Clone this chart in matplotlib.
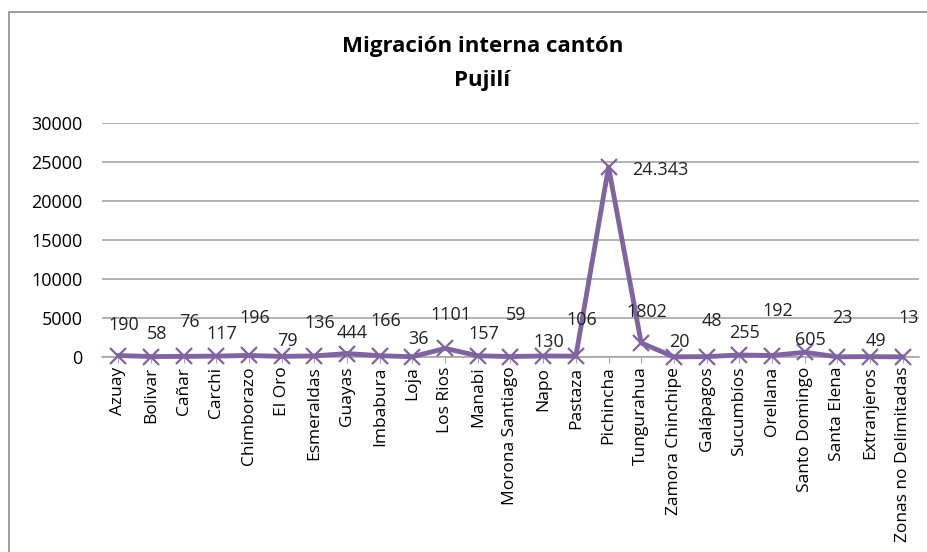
import matplotlib.pyplot as plt
from matplotlib.patches import Rectangle

# data
provincias = ["Azuay", "Bolivar", "Cañar", "Carchi", "Chimborazo", "El Oro", "Esmeraldas",
              "Guayas", "Imbabura", "Loja", "Los Rios", "Manabi", "Morona Santiago", "Napo",
              "Pastaza", "Pichincha", "Tungurahua", "Zamora Chinchipe", "Galápagos", "Sucumbíos",
              "Orellana", "Santo Domingo", "Santa Elena", "Extranjeros", "Zonas no Delimitadas"]
migrantes = [190, 58, 76, 117, 196, 79, 136, 444, 166, 36, 1101, 157, 59, 130, 106,
             24343, 1802, 20, 48, 255, 192, 605, 23, 49, 13]
etiquetas = ["190", "58", "76", "117", "196", "79", "136", "444", "166", "36", "1101", "157",
             "59", "130", "106", "24.343", "1802", "20", "48", "255", "192", "605", "23", "49", "13"]
y_ticks = [0, 5000, 10000, 15000, 20000, 25000, 30000]

# label offsets in points (dy), as Excel placed them
label_dy = [22, 16, 25, 16, 27, 11, 24, 15, 25, 13, 24, 16, 30, 10, 26,
            0, 22, 11, 26, 16, 32, 9, 28, 11, 28]

FONT = ["Open Sans", "DejaVu Sans"]
PURPLE = "#8064A2"
GRID = "#a6a6a6"

fig = plt.figure(figsize=(9.28, 5.52), dpi=100)
fig.patches.append(Rectangle((9 / 928, -0.1), 1.2, (552 - 12) / 552 + 0.1,
                             transform=fig.transFigure, fill=False,
                             edgecolor="#8c8c8c", linewidth=1.2))

ax = fig.add_axes([102 / 928, (552 - 357) / 552, (919 - 102) / 928, (357 - 123) / 552])
x = list(range(len(provincias)))
ax.plot(x, migrantes, color=PURPLE, linewidth=3.5, marker="x", markersize=11,
        markeredgewidth=1.6, zorder=3, clip_on=False)

for i, (v, t) in enumerate(zip(migrantes, etiquetas)):
    if i == 15:
        ax.annotate(t, (i, v), xytext=(17, -2), textcoords="offset points",
                    ha="left", va="center", fontsize=13, family=FONT, color="#222222")
    else:
        ax.annotate(t, (i, v), xytext=(4, label_dy[i]), textcoords="offset points",
                    ha="center", va="center", fontsize=13, family=FONT, color="#222222")

ax.set_xlim(-0.5, len(provincias) - 0.5)
ax.set_ylim(0, 30000)
ax.set_yticks(y_ticks)
ax.set_yticklabels([str(v) for v in y_ticks], family=FONT, fontsize=13)
ax.set_xticks(x)
ax.set_xticklabels(provincias, rotation=90, family=FONT, fontsize=12.5)
ax.tick_params(axis="y", length=0, pad=14)
ax.tick_params(axis="x", length=4, color=GRID, pad=3)
ax.grid(axis="y", color=GRID, linewidth=1.2)
for s in ["top", "right", "left"]:
    ax.spines[s].set_visible(False)
ax.spines["bottom"].set_color(GRID)
ax.spines["bottom"].set_linewidth(1.2)
ax.set_axisbelow(True)

fig.text(0.52, 0.915, "Migración interna cantón", ha="center", va="center",
         fontsize=16, fontweight="bold", family=FONT)
fig.text(0.52, 0.855, "Pujilí", ha="center", va="center",
         fontsize=16, fontweight="bold", family=FONT)

fig.savefig("out.png", dpi=100)
